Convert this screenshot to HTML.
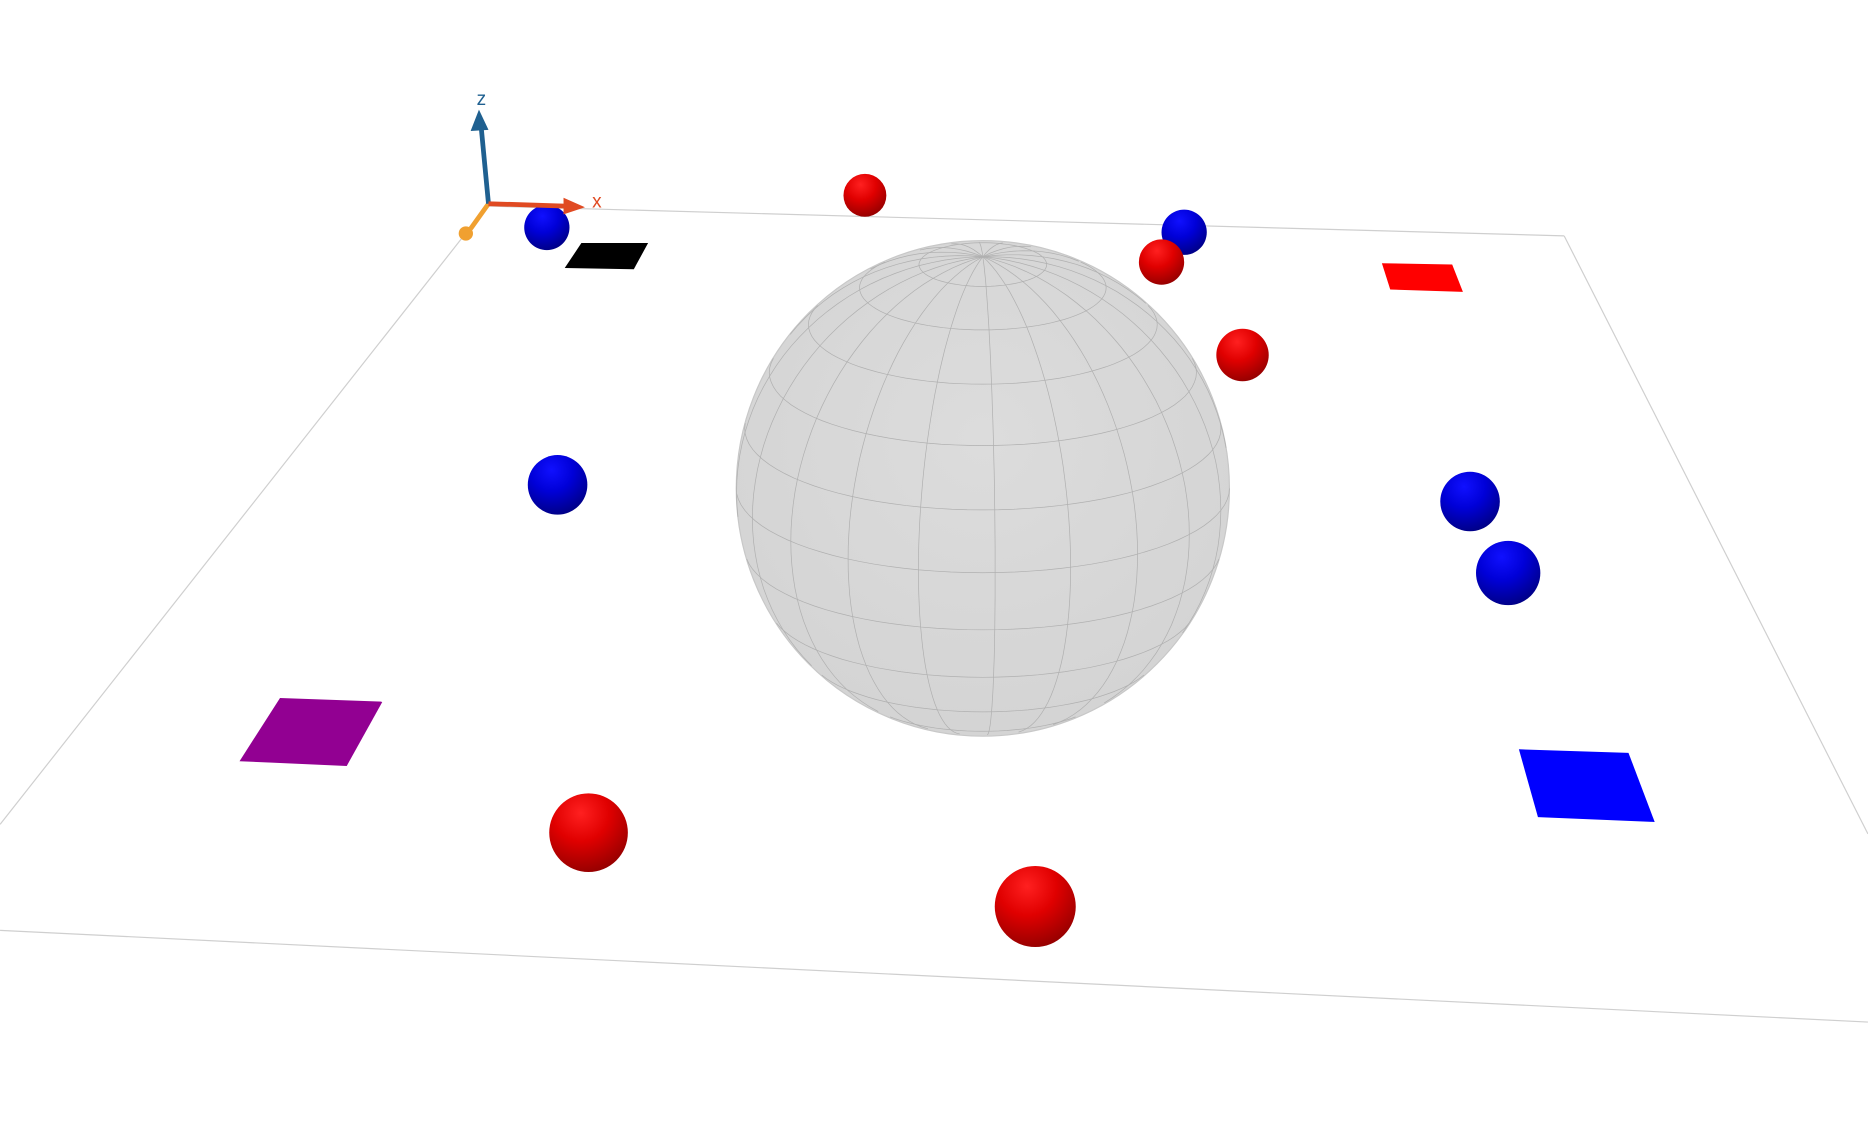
<!DOCTYPE html>
<html><head><meta charset="utf-8"><style>
html,body{margin:0;padding:0;background:#fff;width:1868px;height:1140px;overflow:hidden}
svg{display:block}
text{font-family:"Liberation Sans",sans-serif}
</style></head><body>
<svg id="scene" width="1868" height="1140" viewBox="0 0 1568 957" xmlns="http://www.w3.org/2000/svg">
<defs>
<radialGradient id="gr" cx="0.4" cy="0.25" r="0.8"><stop offset="0" stop-color="#ff2020"/><stop offset="0.45" stop-color="#e00000"/><stop offset="1" stop-color="#900000"/></radialGradient>
<radialGradient id="gb" cx="0.4" cy="0.25" r="0.8"><stop offset="0" stop-color="#1010ff"/><stop offset="0.45" stop-color="#0000d8"/><stop offset="1" stop-color="#000080"/></radialGradient>
<radialGradient id="gs" cx="0.5" cy="0.4" r="0.6"><stop offset="0" stop-color="#dcdcdc"/><stop offset="1" stop-color="#d4d4d4"/></radialGradient>
</defs>
<polygon points="410,173 1313,198 1568,700 1568,858 0,781 0,692 390,197" fill="#fff" stroke="none"/>
<g stroke="#cfcfcf" stroke-width="1" fill="none">
<line x1="410" y1="173" x2="1313" y2="198"/>
<line x1="1313" y1="198" x2="1568" y2="700"/>
<line x1="0" y1="781" x2="1568" y2="858"/>
<line x1="390" y1="197" x2="0" y2="692"/>
</g>
<g id="squares"></g>
<g id="bigsphere"></g>
<g id="balls"></g>
<g>
<line x1="410" y1="171" x2="395" y2="192" stroke="#f0a030" stroke-width="4"/>
<circle cx="391" cy="196" r="6" fill="#f0a030"/>
<line x1="410" y1="171" x2="404" y2="108" stroke="#1f6090" stroke-width="4"/>
<polygon points="402,92 395,110 410,109" fill="#1f6090"/>
<line x1="410" y1="171" x2="475" y2="173" stroke="#e04a22" stroke-width="4"/>
<polygon points="491,174 473,166 473,180" fill="#e04a22"/>
<text x="404" y="88" font-size="16" fill="#1f6090" text-anchor="middle">z</text>
<text x="501" y="174" font-size="16" fill="#e04a22" text-anchor="middle">x</text>
</g>
</svg>
<script>
const NS="http://www.w3.org/2000/svg";
// ball data: screen x, y, radius, color (blue drawn first so red overlaps)
const ballX=[459,994,468,1234,1266,726,975,1043,494,869];
const ballY=[191,195,407,421,481,164,220,298,699,761];
const ballR=[19,19,25,25,27,18,19,22,33,34];
const ballC=["blue","blue","blue","blue","blue","red","red","red","red","red"];
const squarePts=[
 "488,204 544,204 532,226 474,225",
 "1160,221 1219,222 1228,245 1167,243",
 "235,586 321,589 291,643 201,639",
 "1275,629 1367,632 1389,690 1291,686"];
const squareC=["#000000","#ff0000","#920092","#0000ff"];
const squareN=["black-square","red-square","purple-square","blue-square"];
const sq=document.getElementById('squares');
squarePts.forEach((p,i)=>{const e=document.createElementNS(NS,'polygon');
e.setAttribute('points',p);e.setAttribute('fill',squareC[i]);


sq.appendChild(e);});
const cx=825,cy=410,R=207,tilt=20*Math.PI/180;
const g=document.getElementById('bigsphere');
const c=document.createElementNS(NS,'ellipse');
c.setAttribute('cx',cx);c.setAttribute('cy',cy);c.setAttribute('rx',R);c.setAttribute('ry',R+1);
c.setAttribute('fill','url(#gs)');c.setAttribute('stroke','#c8c8c8');


g.appendChild(c);
function proj(lat,lon){const x=Math.cos(lat)*Math.sin(lon),y=Math.sin(lat),z=Math.cos(lat)*Math.cos(lon);
 const y2=y*Math.cos(tilt)-z*Math.sin(tilt),z2=y*Math.sin(tilt)+z*Math.cos(tilt);
 return [cx+R*x,cy-R*y2,z2];}
function drawPath(pts){let d="",on=false;pts.forEach(p=>{if(p[2]>=0){d+=(on?"L":"M")+p[0].toFixed(1)+","+p[1].toFixed(1);on=true;}else on=false;});
 if(!d)return;const e=document.createElementNS(NS,'path');e.setAttribute('d',d);e.setAttribute('fill','none');
 e.setAttribute('stroke','#b0b0b0');e.setAttribute('stroke-width','0.6');
 
 
 g.appendChild(e);}
for(let i=0;i<20;i++){const lon=i*Math.PI/10+0.05;const pts=[];for(let k=0;k<=60;k++)pts.push(proj(-Math.PI/2+k*Math.PI/60,lon));drawPath(pts);}
for(let j=1;j<12;j++){const lat=-Math.PI/2+j*Math.PI/12;const pts=[];for(let k=0;k<=96;k++)pts.push(proj(lat,k*2*Math.PI/96));drawPath(pts);}
const b=document.getElementById('balls');
ballX.forEach((x,i)=>{const e=document.createElementNS(NS,'circle');
e.setAttribute('cx',x);e.setAttribute('cy',ballY[i]);e.setAttribute('r',ballR[i]);
e.setAttribute('fill',ballC[i]==="red"?"url(#gr)":"url(#gb)");


b.appendChild(e);});
</script>
</body></html>
